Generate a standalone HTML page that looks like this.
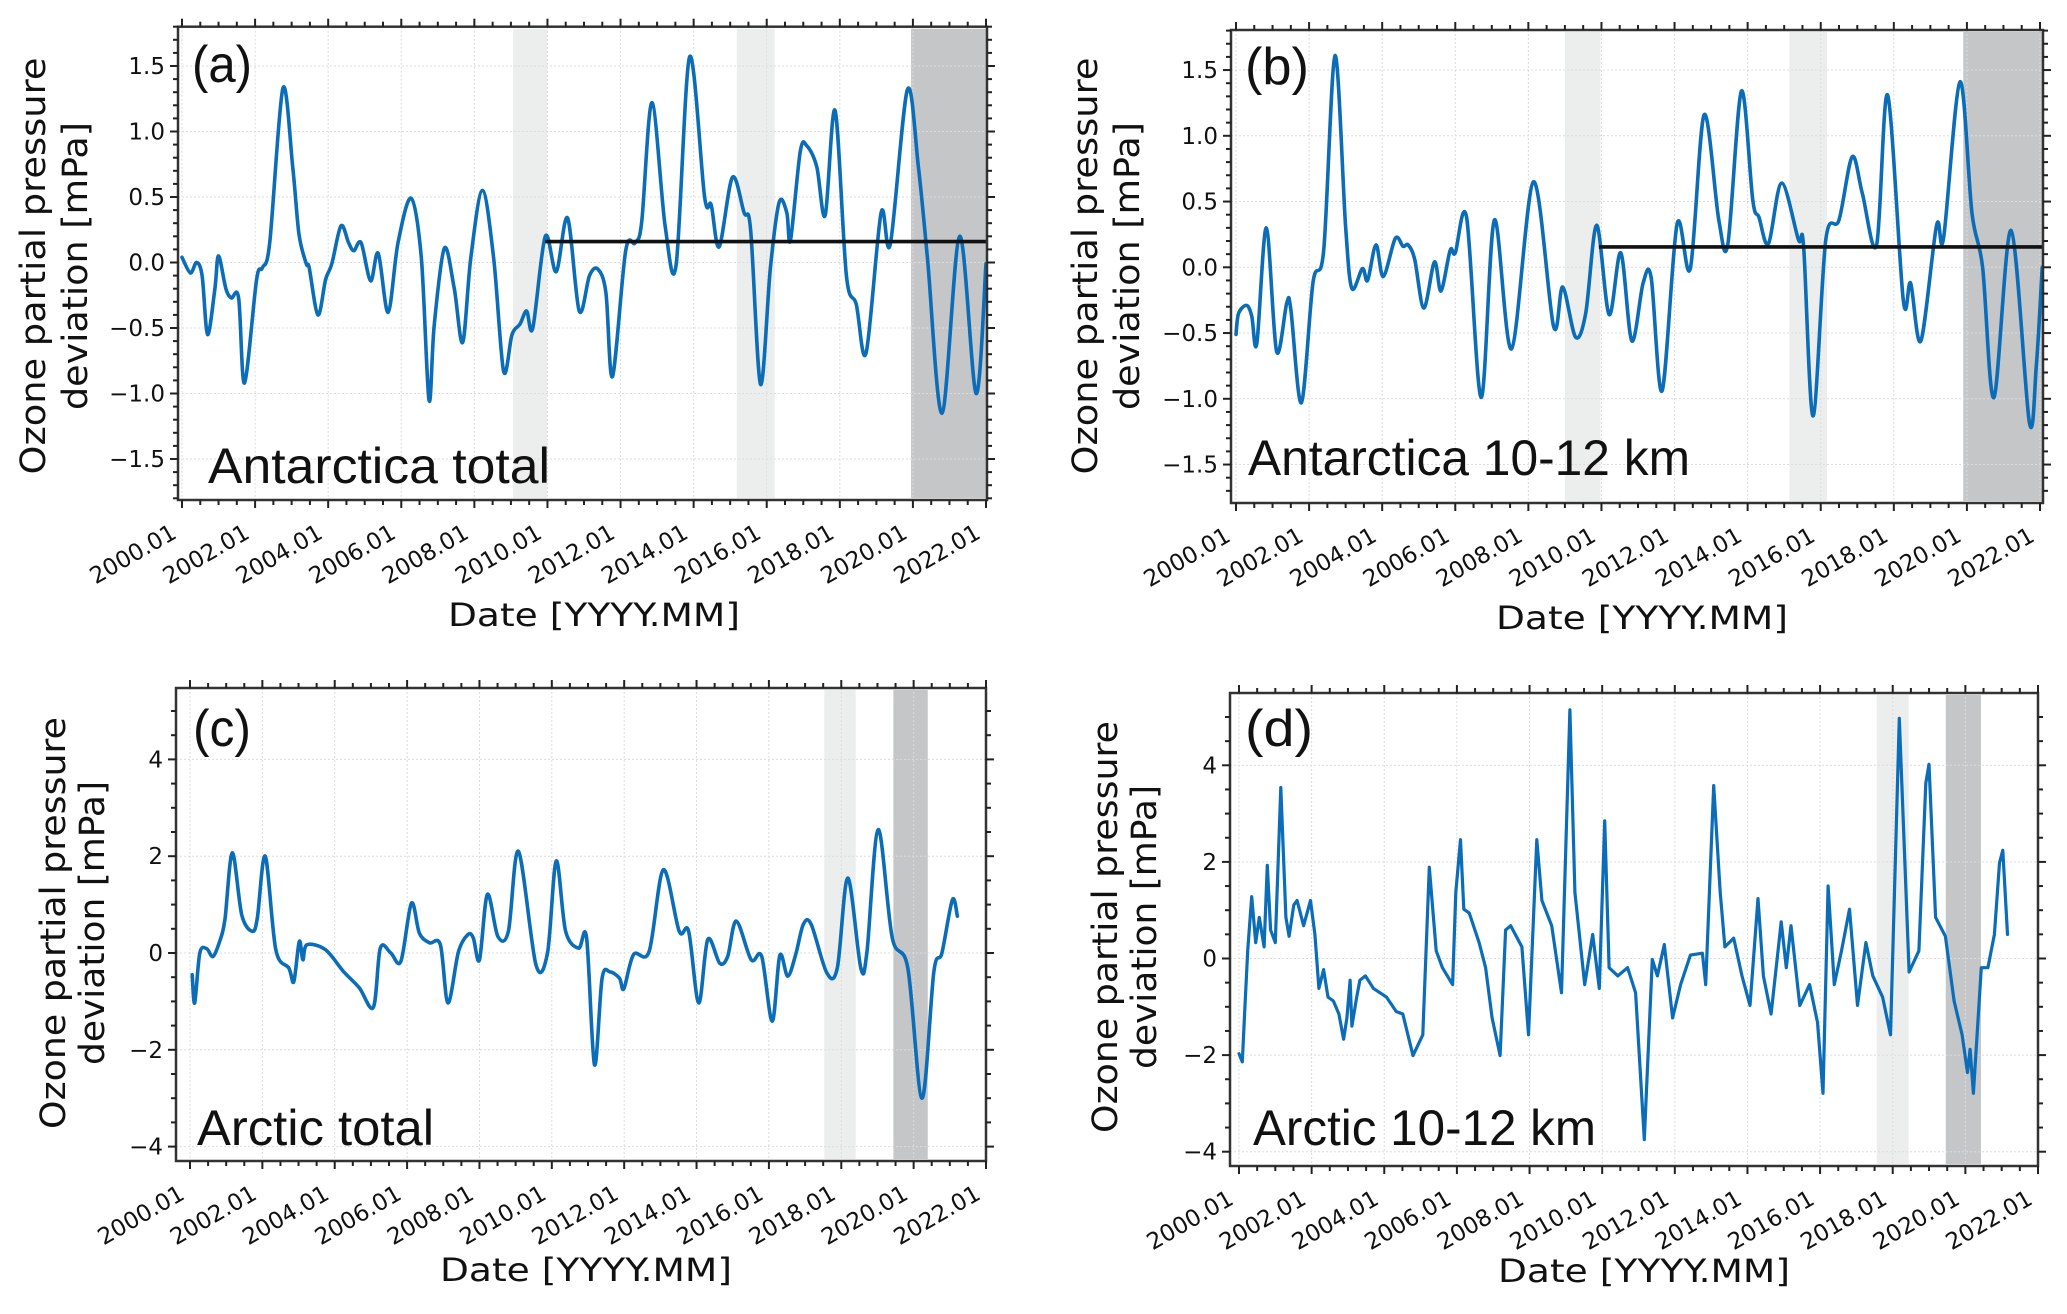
<!DOCTYPE html>
<html><head><meta charset="utf-8"><style>
html,body{margin:0;padding:0;background:#fff;}
svg{display:block;}
</style></head><body>
<svg id="fig" width="2067" height="1314" viewBox="0 0 2067 1314" xmlns="http://www.w3.org/2000/svg"></svg>
<script>
// ---- data (decimal years since 2000.0, ozone deviation mPa) ----
const aYears=[0,0.23,0.4,0.55,0.7,0.9,1.0,1.2,1.35,1.55,1.71,2.04,2.2,2.4,2.76,3.03,3.2,3.4,3.48,3.72,3.93,4.1,4.35,4.56,4.7,4.9,5.16,5.37,5.64,5.91,6.27,6.55,6.76,6.9,7.18,7.45,7.68,7.9,8.22,8.53,8.8,9.03,9.25,9.43,9.6,9.94,10.24,10.55,10.87,11.15,11.38,11.6,11.78,12.14,12.4,12.58,12.86,13.22,13.52,13.89,14.3,14.48,14.7,15.06,15.38,15.56,15.83,16.1,16.34,16.55,16.65,16.92,17.1,17.37,17.6,17.87,18.18,18.45,18.72,19.13,19.38,19.85,20.15,20.4,20.8,21.28,21.73,22.0];
const aVals=[0.04,-0.08,0.0,-0.1,-0.55,-0.2,0.05,-0.2,-0.27,-0.27,-0.92,-0.13,-0.04,0.15,1.33,0.73,0.22,-0.01,-0.04,-0.4,-0.13,-0.01,0.28,0.15,0.09,0.15,-0.14,0.07,-0.38,0.15,0.49,0.03,-1.05,-0.48,0.11,-0.2,-0.61,0.03,0.55,0.03,-0.83,-0.55,-0.47,-0.37,-0.5,0.2,-0.07,0.34,-0.37,-0.1,-0.05,-0.23,-0.87,0.09,0.15,0.31,1.22,0.28,-0.02,1.57,0.5,0.44,0.12,0.65,0.38,0.25,-0.93,-0.04,0.46,0.38,0.17,0.85,0.89,0.73,0.36,1.16,-0.1,-0.32,-0.69,0.38,0.14,1.32,0.73,0.03,-1.15,0.2,-1.0,-0.01];
const bYears=[0,0.07,0.29,0.43,0.57,0.83,1.11,1.39,1.5,1.79,2.11,2.4,2.71,3.0,3.17,3.46,3.6,3.83,4.03,4.36,4.57,4.71,4.89,5.14,5.43,5.61,5.86,6.0,6.31,6.71,7.07,7.54,8.14,8.69,8.94,9.29,9.57,9.87,10.21,10.53,10.83,11.14,11.36,11.66,12.07,12.43,12.81,13.21,13.46,13.83,14.14,14.31,14.57,14.93,15.39,15.53,15.79,16.14,16.5,16.86,17.14,17.53,17.83,18.26,18.46,18.74,19.17,19.36,19.81,20.14,20.43,20.74,21.21,21.71,21.9,22.06];
const bVals=[-0.51,-0.35,-0.29,-0.37,-0.58,0.3,-0.64,-0.27,-0.32,-1.03,-0.11,0.13,1.61,0.31,-0.16,-0.01,-0.1,0.17,-0.07,0.22,0.16,0.17,0.06,-0.31,0.04,-0.18,0.13,0.11,0.38,-0.99,0.36,-0.62,0.65,-0.45,-0.15,-0.53,-0.35,0.32,-0.36,0.11,-0.56,-0.12,-0.08,-0.94,0.33,-0.01,1.16,0.36,0.18,1.34,0.51,0.38,0.18,0.64,0.21,0.16,-1.13,0.21,0.36,0.84,0.56,0.17,1.31,-0.25,-0.12,-0.56,0.32,0.22,1.41,0.41,0.0,-0.99,0.28,-1.18,-0.75,0.0];
const cYears=[0.06,0.13,0.27,0.46,0.64,0.85,0.97,1.17,1.43,1.72,1.86,2.08,2.37,2.73,2.87,3.02,3.12,3.23,3.74,4.24,4.68,5.07,5.26,5.55,5.83,6.12,6.34,6.62,6.92,7.13,7.42,7.68,7.83,8.0,8.22,8.51,8.8,9.08,9.56,9.88,10.12,10.38,10.74,10.96,11.18,11.39,11.61,11.87,11.99,12.26,12.69,13.08,13.52,13.78,14.06,14.31,14.64,14.86,15.1,15.51,15.8,16.09,16.3,16.52,16.74,16.95,17.17,17.6,17.89,18.18,18.54,18.71,19.02,19.41,19.84,20.23,20.56,20.78,21.07,21.21];
const cVals=[-0.45,-1.03,0.0,0.09,-0.07,0.31,0.72,2.07,0.79,0.45,0.72,2.0,0.07,-0.31,-0.59,0.24,-0.14,0.17,0.07,-0.38,-0.72,-1.12,0.1,0.0,-0.17,1.03,0.41,0.21,0.17,-1.03,0.03,0.38,0.31,-0.14,1.21,0.34,0.45,2.1,-0.24,0.0,1.9,0.45,0.1,0.31,-2.31,-0.52,-0.39,-0.52,-0.74,-0.03,0.03,1.72,0.45,0.45,-1.03,0.28,-0.21,-0.07,0.66,-0.14,-0.07,-1.41,-0.05,-0.48,-0.03,0.59,0.59,-0.41,-0.31,1.55,-0.31,0.03,2.55,0.31,-0.31,-3.0,-0.38,0.0,1.1,0.76];
const dYears=[0.0,0.09,0.15,0.24,0.35,0.46,0.56,0.69,0.78,0.87,1.0,1.15,1.29,1.38,1.51,1.6,1.78,1.97,2.09,2.2,2.33,2.45,2.6,2.75,2.88,2.97,3.06,3.11,3.24,3.33,3.48,3.7,4.06,4.33,4.51,4.79,5.06,5.24,5.43,5.6,5.88,5.97,6.1,6.19,6.34,6.61,6.79,6.97,7.19,7.34,7.48,7.79,7.97,8.2,8.34,8.61,8.88,9.11,9.25,9.52,9.74,9.92,10.07,10.19,10.43,10.7,10.92,11.16,11.38,11.52,11.71,11.94,12.16,12.43,12.76,12.85,13.07,13.25,13.38,13.62,13.85,14.07,14.29,14.44,14.65,14.93,15.07,15.2,15.44,15.71,15.93,16.08,16.22,16.39,16.59,16.81,17.03,17.26,17.45,17.72,17.94,18.18,18.45,18.72,18.91,19.0,19.18,19.45,19.69,19.91,20.06,20.13,20.22,20.44,20.62,20.8,20.94,21.03,21.16];
const dVals=[-1.97,-2.14,-1.23,0.16,1.28,0.33,0.85,0.24,1.93,0.59,0.33,3.54,0.85,0.46,1.11,1.2,0.68,1.2,0.5,-0.62,-0.23,-0.8,-0.88,-1.15,-1.67,-1.23,-0.45,-1.4,-0.8,-0.45,-0.36,-0.62,-0.8,-1.1,-1.15,-2.01,-1.58,1.89,0.16,-0.19,-0.54,1.37,2.46,1.02,0.94,0.33,-0.19,-1.23,-2.01,0.59,0.68,0.24,-1.58,2.46,1.2,0.68,-0.71,5.15,1.37,-0.54,0.5,-0.62,2.85,-0.19,-0.36,-0.19,-0.71,-3.75,-0.02,-0.36,0.29,-1.23,-0.54,0.07,0.11,-0.54,3.58,1.37,0.24,0.42,-0.36,-0.97,1.24,-0.36,-1.15,0.76,-0.19,0.68,-0.97,-0.54,-1.32,-2.79,1.5,-0.54,0.16,1.02,-0.97,0.33,-0.36,-0.8,-1.58,4.97,-0.28,0.16,3.63,4.02,0.85,0.46,-0.88,-1.58,-2.36,-1.88,-2.79,-0.19,-0.19,0.5,1.98,2.24,0.5];
const xTickYears=[0,2,4,6,8,10,12,14,16,18,20,22];
const xTickLabels=["2000.01","2002.01","2004.01","2006.01","2008.01","2010.01","2012.01","2014.01","2016.01","2018.01","2020.01","2022.01"];
const abYTicks=[-1.5,-1.0,-0.5,0.0,0.5,1.0,1.5];
const cdYTicks=[-4,-2,0,2,4];
const aBands=[[9.06,9.99,"light"],[15.18,16.22,"light"],[19.95,22.02,"dark"]];
const bBands=[[9.0,9.97,"light"],[15.14,16.17,"light"],[19.9,22.1,"dark"]];
const cBands=[[17.53,18.4,"light"],[19.44,20.39,"dark"]];
const dBands=[[17.56,18.44,"light"],[19.46,20.43,"dark"]];
const aMean=[9.94,22.02,0.16];
const bMean=[9.93,22.08,0.155];

const NS="http://www.w3.org/2000/svg";
const svg=document.getElementById('fig');
function mk(tag,attrs,parent){const e=document.createElementNS(NS,tag);for(const k in attrs)e.setAttribute(k,attrs[k]);(parent||svg).appendChild(e);return e;}
function fmt(v,dec){const s=Math.abs(v).toFixed(dec);return (v<0?"\u2212":"")+s;}

function smoothPath(pts){
  let d="M"+pts[0][0].toFixed(1)+","+pts[0][1].toFixed(1);
  for(let i=0;i<pts.length-1;i++){
    const p0=pts[Math.max(0,i-1)],p1=pts[i],p2=pts[i+1],p3=pts[Math.min(pts.length-1,i+2)];
    const t=0.16;
    const c1=[p1[0]+(p2[0]-p0[0])*t,p1[1]+(p2[1]-p0[1])*t];
    const c2=[p2[0]-(p3[0]-p1[0])*t,p2[1]-(p3[1]-p1[1])*t];
    d+="C"+c1[0].toFixed(1)+","+c1[1].toFixed(1)+" "+c2[0].toFixed(1)+","+c2[1].toFixed(1)+" "+p2[0].toFixed(1)+","+p2[1].toFixed(1);
  }
  return d;
}

function panel(p){
  const g=mk('g',{});
  
  
  const X=y=>p.x2000+(p.x2022-p.x2000)*y/22;
  const Y=v=>p.y0-v*p.ppu;
  const clip=mk('clipPath',{id:'clip-'+p.id},g);
  mk('rect',{x:p.L,y:p.T,width:p.R-p.L,height:p.B-p.T},clip);
  p.bands.forEach(b=>{
    const x1=Math.max(p.L,X(b[0])),x2=Math.min(p.R,X(b[1]));
    const r=mk('rect',{x:x1,y:p.T+2,width:x2-x1,height:p.B-p.T-4,fill:b[2]==="dark"?"#c5c6c8":"#eceeed"},g);
    
    
  });
  xTickYears.forEach(t=>{const x=X(t);if(x>p.L+1&&x<p.R-1){const l=mk('line',{x1:x,x2:x,y1:p.T,y2:p.B,stroke:"#dcdcdc","stroke-width":1,"stroke-dasharray":"2,2"},g);}});
  p.yticks.forEach(t=>{const y=Y(t);const l=mk('line',{x1:p.L,x2:p.R,y1:y,y2:y,stroke:"#dcdcdc","stroke-width":1,"stroke-dasharray":"2,2"},g);});
  const pts=p.years.map((yr,i)=>[X(yr),Y(p.vals[i])]);
  const path=mk('path',{d:p.smooth?smoothPath(pts):("M"+pts.map(q=>q[0].toFixed(1)+","+q[1].toFixed(1)).join("L")),fill:"none",stroke:"#0b6db7","stroke-width":p.smooth?3.6:3.2,"stroke-linejoin":"round","stroke-linecap":"round","clip-path":"url(#clip-"+p.id+")"},g);
  
  
  if(p.mean){const m=mk('line',{x1:X(p.mean[0]),x2:Math.min(p.R,X(p.mean[1])),y1:Y(p.mean[2]),y2:Y(p.mean[2]),stroke:"#111","stroke-width":3.6},g);
    }
  const fr=mk('rect',{x:p.L,y:p.T,width:p.R-p.L,height:p.B-p.T,fill:"none",stroke:"#333","stroke-width":2.5},g);
  
  for(let k=0;k<=46;k++){const yr=k*0.5-0.5;const x=X(yr);if(x<p.L-0.5||x>p.R+0.5)continue;
    const major=(Math.abs(yr%2)<1e-6);const len=major?8:5;
    mk('line',{x1:x,x2:x,y1:p.B,y2:p.B+len,stroke:"#222","stroke-width":2},g);
    mk('line',{x1:x,x2:x,y1:p.T,y2:p.T-len,stroke:"#222","stroke-width":2},g);}
  xTickYears.forEach((t,i)=>{const x=X(t);
    const tx=mk('text',{x:0,y:0,transform:"translate("+(x-4)+","+(p.B+37)+") rotate(-30)","text-anchor":"end","font-family":"DejaVu Sans, Liberation Sans, sans-serif","font-size":23,fill:"#111"},g);
    tx.textContent=xTickLabels[i];});
  const lo=p.yticks[0]-1,hi=p.yticks[p.yticks.length-1]+1;
  for(let v=lo;v<=hi+1e-9;v+=p.minor){const y=Y(v);if(y<p.T-0.5||y>p.B+0.5)continue;
    const major=p.yticks.some(t=>Math.abs(t-v)<1e-6);const len=major?8:5;
    mk('line',{x1:p.L,x2:p.L-len,y1:y,y2:y,stroke:"#222","stroke-width":2},g);
    mk('line',{x1:p.R,x2:p.R+len,y1:y,y2:y,stroke:"#222","stroke-width":2},g);}
  p.yticks.forEach(t=>{const tx=mk('text',{x:p.L-13,y:Y(t)+8,"text-anchor":"end","font-family":"DejaVu Sans, Liberation Sans, sans-serif","font-size":23,fill:"#111"},g);
    tx.textContent=fmt(t,p.dec);});
  const xt=mk('text',{x:p.xtX,y:p.xtY,"text-anchor":"middle","font-family":"DejaVu Sans, Liberation Sans, sans-serif","font-size":32,fill:"#111",textLength:292,lengthAdjust:"spacingAndGlyphs"},g);
  xt.textContent="Date [YYYY.MM]";
  const y1=mk('text',{x:0,y:0,transform:"translate("+p.yt1+","+p.ytC+") rotate(-90)","text-anchor":"middle","font-family":"DejaVu Sans, Liberation Sans, sans-serif","font-size":35,fill:"#111",textLength:p.ytLen1,lengthAdjust:"spacingAndGlyphs"},g);
  y1.textContent="Ozone partial pressure";
  const y2=mk('text',{x:0,y:0,transform:"translate("+p.yt2+","+p.ytC+") rotate(-90)","text-anchor":"middle","font-family":"DejaVu Sans, Liberation Sans, sans-serif","font-size":35,fill:"#111",textLength:p.ytLen2,lengthAdjust:"spacingAndGlyphs"},g);
  y2.textContent="deviation [mPa]";
  const pl=mk('text',{x:p.plX,y:p.plY,"font-family":"Liberation Sans, sans-serif","font-size":52,fill:"#111",textLength:p.plLen,lengthAdjust:"spacingAndGlyphs"},g);
  pl.textContent="("+p.id+")";
  const nm=mk('text',{x:p.nmX,y:p.nmY,"font-family":"Liberation Sans, sans-serif","font-size":50,fill:"#111",textLength:p.nmLen,lengthAdjust:"spacingAndGlyphs"},g);
  nm.textContent=p.name;
}

panel({id:"a",name:"Antarctica total",years:aYears,vals:aVals,smooth:true,bands:aBands,mean:aMean,
  L:178,R:987,T:26.7,B:500,x2000:182,x2022:986,y0:262.5,ppu:131,yticks:abYTicks,minor:0.1,dec:1,
  xtX:594,xtY:626,yt1:45,yt2:87,ytC:266,ytLen1:417,ytLen2:288,
  plX:192,plY:82,plLen:60,nmX:208,nmY:483,nmLen:342});
panel({id:"b",name:"Antarctica 10-12 km",years:bYears,vals:bVals,smooth:true,bands:bBands,mean:bMean,
  L:1231,R:2043,T:30,B:503,x2000:1236,x2022:2040,y0:267.3,ppu:131.5,yticks:abYTicks,minor:0.1,dec:1,
  xtX:1642,xtY:629,yt1:1097,yt2:1139,ytC:266,ytLen1:417,ytLen2:288,
  plX:1245,plY:84,plLen:64,nmX:1248,nmY:475,nmLen:442});
panel({id:"c",name:"Arctic total",years:cYears,vals:cVals,smooth:true,bands:cBands,mean:null,
  L:176,R:986,T:688,B:1161,x2000:190,x2022:986,y0:953,ppu:48.4,yticks:cdYTicks,minor:0.5,dec:0,
  xtX:586,xtY:1281,yt1:65,yt2:104,ytC:923,ytLen1:412,ytLen2:284,
  plX:193,plY:746,plLen:58,nmX:197,nmY:1145,nmLen:237});
panel({id:"d",name:"Arctic 10-12 km",years:dYears,vals:dVals,smooth:false,bands:dBands,mean:null,
  L:1230,R:2038,T:693,B:1166,x2000:1239,x2022:2038,y0:958.5,ppu:48.3,yticks:cdYTicks,minor:0.5,dec:0,
  xtX:1644,xtY:1282,yt1:1117,yt2:1156,ytC:927,ytLen1:412,ytLen2:284,
  plX:1245,plY:746,plLen:68,nmX:1253,nmY:1145,nmLen:343});
</script>
</body></html>
